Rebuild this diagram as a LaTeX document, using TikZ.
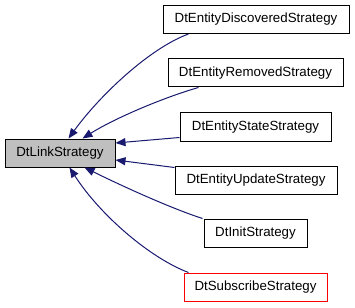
\documentclass[tikz,border=0pt]{standalone}
\usepackage{fontspec}
\setmainfont{Liberation Sans}
\usetikzlibrary{arrows.meta}
\definecolor{edgeblue}{HTML}{191970}
\definecolor{boxgray}{HTML}{BFBFBF}
\tikzset{
  cls/.style={draw=black, line width=1pt, fill=white, minimum height=28pt, inner sep=0pt, font=\fontsize{13.3}{15}\selectfont},
  inh/.style={draw=edgeblue, line width=1pt, -{Triangle[length=10pt,width=8pt]}, color=edgeblue}
}
\begin{document}
\begin{tikzpicture}[x=1pt,y=-1pt]
\useasboundingbox (0,0) rectangle (355,307);
\node[cls, minimum width=186pt] (disc) at (256,19.5) {DtEntityDiscoveredStrategy};
\node[cls, minimum width=175pt] (rem) at (255.5,73) {DtEntityRemovedStrategy};
\node[cls, minimum width=151pt] (state) at (255.5,127) {DtEntityStateStrategy};
\node[cls, minimum width=110pt, fill=boxgray] (link) at (60,153) {DtLinkStrategy};
\node[cls, minimum width=162pt] (upd) at (256,180) {DtEntityUpdateStrategy};
\node[cls, minimum width=103pt] (init) at (255.5,233) {DtInitStrategy};
\node[cls, minimum width=143pt, draw=red] (sub) at (255.5,287) {DtSubscribeStrategy};

\draw[inh] ([xshift=26pt]disc.south west) .. controls (150,48) and (100,95) .. ([xshift=64pt]link.north west);
\draw[inh] ([xshift=31pt]rem.south west) .. controls (165,97) and (115,118) .. ([xshift=78pt]link.north west);
\draw[inh] ([yshift=4pt]state.south west) -- ([yshift=10pt]link.east);
\draw[inh] ([yshift=-2pt]upd.north west) -- ([yshift=-7pt]link.east);
\draw[inh] ([xshift=-1pt]init.north west) .. controls (170,208) and (120,185) .. ([xshift=80pt]link.south west);
\draw[inh] ([xshift=5pt]sub.north west) .. controls (150,258) and (100,215) .. ([xshift=65pt]link.south west);
\end{tikzpicture}
\end{document}
